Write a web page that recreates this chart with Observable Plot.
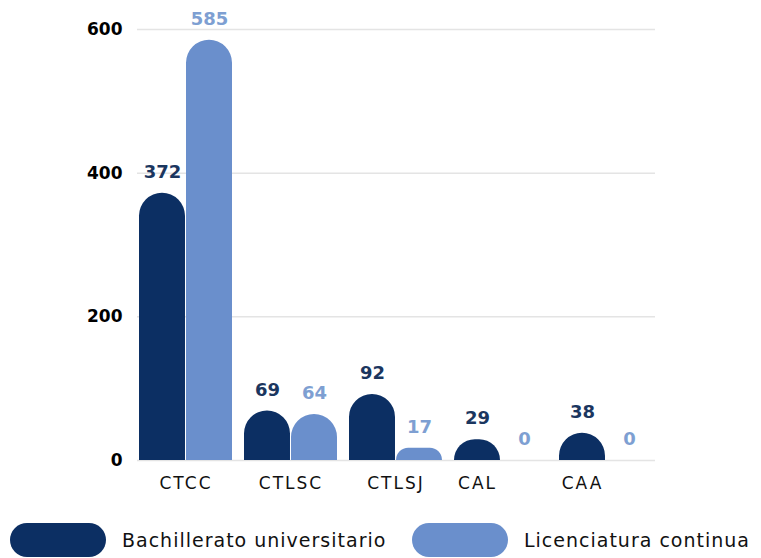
<!DOCTYPE html>
<html><head><meta charset="utf-8">
<script src="https://cdn.jsdelivr.net/npm/d3@7"></script>
<script src="https://cdn.jsdelivr.net/npm/@observablehq/plot@0.6"></script>
<style>
body{margin:0;background:#fff;font-family:"DejaVu Sans", sans-serif}
#wrap{position:relative;width:761px;height:558px;overflow:hidden;background:#fff}
#legend{position:absolute;left:0;top:523px;height:34px;width:761px}
.item{position:absolute;top:0;height:34px;display:flex;align-items:center}
.pill{width:96px;height:34px;border-radius:17px;margin-right:16px}
.lab{font-size:19px;color:#111;white-space:nowrap;letter-spacing:1px}
</style></head><body><div id="wrap"><div id="chart"></div><div id="legend"></div></div>
<script>
const categories = ["CTCC","CTLSC","CTLSJ","CAL","CAA"];
const series = ["Bachillerato universitario","Licenciatura continua"];
const bachillerato = [372,69,92,29,38];
const licenciatura = [585,64,17,0,0];
const yTicks = [0,200,400,600];
const colors = ["#0c2f63","#6a8fcc"];
const labelColors = ["#1b365f","#7e9fd2"];

const rows = categories.map((c,i)=>({category:c, bach:bachillerato[i], lic:licenciatura[i], both: bachillerato[i]>0 && licenciatura[i]>0}));

const W = 761, ML = 137, MR = 106, padIn = 0.113;
const step = (W - ML - MR) / (categories.length - padIn);
const bw = step * (1 - padIn);
const half = bw / 2;

const font = "'DejaVu Sans', sans-serif";
const chart = Plot.plot({
  width: W, height: 510,
  marginLeft: ML, marginRight: MR, marginTop: 29, marginBottom: 50,
  style: {fontFamily: font, background: "#fff", overflow: "visible"},
  x: {domain: categories, paddingInner: padIn, paddingOuter: 0, axis: null},
  y: {domain: [0, 600], axis: null},
  marks: [
    Plot.gridY(yTicks, {stroke: "#e4e4e4", strokeOpacity: 1, strokeWidth: 1.5}),
    Plot.axisY(yTicks, {tickSize: 0, tickPadding: 15, fontSize: 17, fontWeight: "bold", fill: "#000", label: null}),
    Plot.barY(rows.filter(d => d.bach > 0), {x: "category", y: "bach", fill: colors[0], insetRight: half, ry1: half / 2}),
    Plot.barY(rows.filter(d => d.lic > 0), {x: "category", y: "lic", fill: colors[1], insetLeft: half, ry1: half / 2}),
    Plot.text(rows, {x: "category", y: "bach", text: d => String(d.bach), dx: -half / 2, dy: -21, fill: labelColors[0], fontSize: 18, fontWeight: "bold"}),
    Plot.text(rows, {x: "category", y: "lic", text: d => String(d.lic), dx: half / 2, dy: -21, fill: labelColors[1], fontSize: 18, fontWeight: "bold"}),
    Plot.text(rows.filter(d => d.both), {x: "category", text: "category", frameAnchor: "bottom", dy: 28, fontSize: 17, fill: "#111"}),
    Plot.text(rows.filter(d => !d.both), {x: "category", text: "category", frameAnchor: "bottom", dx: -half / 2, dy: 28, fontSize: 17, fill: "#111"})
  ]
});
chart.querySelectorAll("text").forEach(t => { if (categories.includes(t.textContent)) t.setAttribute("letter-spacing", "2"); });
document.getElementById("chart").appendChild(chart);

const legend = document.getElementById("legend");
const lefts = [10, 412];
series.forEach((s, i) => {
  const it = document.createElement("div");
  it.className = "item";
  it.style.left = lefts[i] + "px";
  const p = document.createElement("div");
  p.className = "pill"; p.style.background = colors[i];
  const t = document.createElement("span");
  t.className = "lab"; t.textContent = s;
  it.appendChild(p); it.appendChild(t);
  legend.appendChild(it);
});
</script></body></html>
